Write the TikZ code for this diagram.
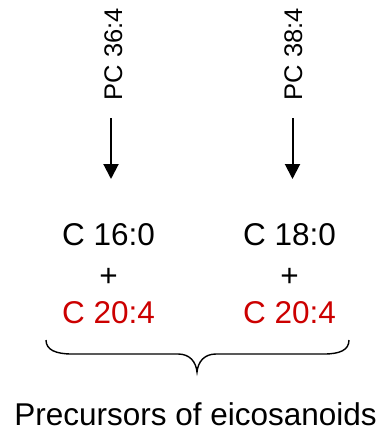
\documentclass[tikz,border=0pt]{standalone}
\usepackage{fontspec}
\setmainfont{Liberation Sans}
\usetikzlibrary{arrows.meta}
\definecolor{acidred}{RGB}{204,0,0}
\tikzset{
  x=1pt, y=-1pt,
  label25/.style={inner sep=0pt, font=\fontsize{25.5}{30}\selectfont, rotate=90, anchor=base},
  label32/.style={inner sep=0pt, font=\fontsize{31.5}{36}\selectfont, anchor=base},
  flow/.style={line width=2pt, -{Triangle[width=15pt,length=15pt]}},
  bracket/.style={line width=1.4pt},
}
\begin{document}
\begin{tikzpicture}
  \useasboundingbox (0,0) rectangle (385,434);

  % phosphatidylcholine species
  \node[label25] (pcA) at (122,54) {PC 36:4};
  \node[label25] (pcB) at (302,54) {PC 38:4};

  % arrow end points
  \coordinate (aAs) at (111,118);
  \coordinate (aAe) at (111,179);
  \coordinate (aBs) at (292.5,118);
  \coordinate (aBe) at (292.5,179);
  \draw[flow] (aAs) -- (aAe);
  \draw[flow] (aBs) -- (aBe);

  % fatty acid pairs
  \node[label32] (faA1) at (108.5,245) {C 16:0};
  \node[label32] (plA)  at (108.5,286) {+};
  \node[label32, text=acidred] (faA2) at (108.5,323) {C 20:4};
  \node[label32] (faB1) at (289.5,245) {C 18:0};
  \node[label32] (plB)  at (289.5,286) {+};
  \node[label32, text=acidred] (faB2) at (289.5,323) {C 20:4};

  % curly brace under both pairs
  \draw[bracket] (46,340) .. controls (46,350) and (56,354) .. (72,354)
    -- (178,354) .. controls (190,354) and (196,362) .. (197,372)
    .. controls (198,362) and (204,354) .. (216,354)
    -- (324,354) .. controls (340,354) and (349,350) .. (349,340);

  \node[label32] (prec) at (195.5,425) {Precursors of eicosanoids};
\end{tikzpicture}
\end{document}
